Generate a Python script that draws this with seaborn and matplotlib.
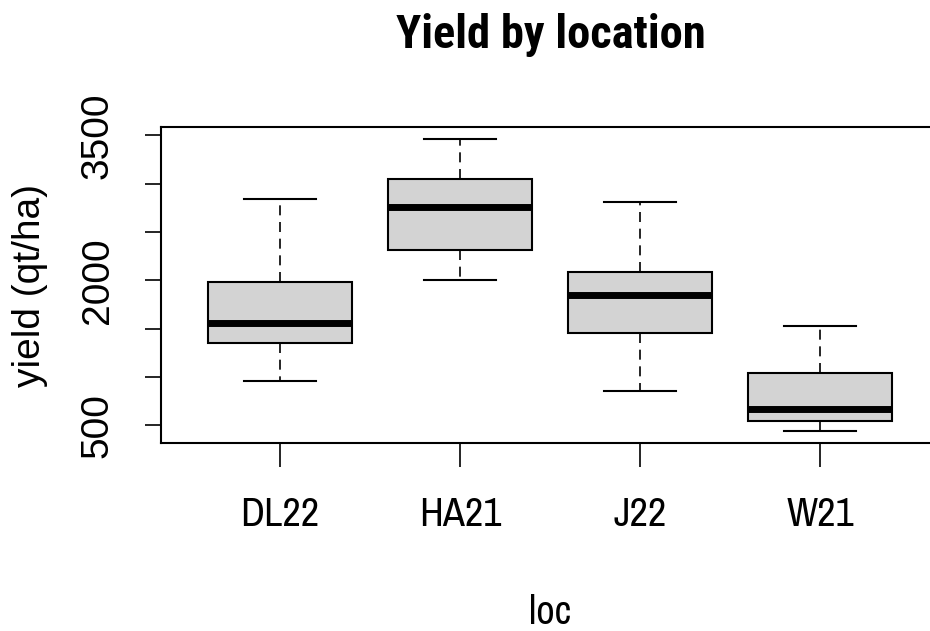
import matplotlib
matplotlib.use('Agg')
import matplotlib.pyplot as plt
from matplotlib import font_manager
import seaborn as sns
import pandas as pd

# five-number summaries (min, Q1, median, Q3, max)
locations = ['DL22', 'HA21', 'J22', 'W21']
dl22 = [960, 1351, 1562, 1981, 2839]
ha21 = [2002, 2317, 2759, 3050, 3465]
j22 = [856, 1455, 1846, 2085, 2815]
w21 = [438, 545, 673, 1040, 1531]

yticks = [500, 1000, 1500, 2000, 2500, 3000, 3500]
ytick_labels = ['500', '', '', '2000', '', '', '3500']

df = pd.DataFrame({
    'loc': [l for l, v in zip(locations, [dl22, ha21, j22, w21]) for _ in v],
    'yield': dl22 + ha21 + j22 + w21,
})

narrow = ['Archivo Narrow', 'Liberation Sans', 'DejaVu Sans']
normal = ['Liberation Sans', 'DejaVu Sans']

# the title needs a narrow face that has a real bold cut
bold_faces = {f.name for f in font_manager.fontManager.ttflist
              if f.weight in (700, 'bold') and f.stretch != 'normal'}
title_font = 'Liberation Sans'
for cand in ['Liberation Sans Narrow', 'Archivo Narrow', 'Roboto Condensed',
             'Arimo Narrow', 'PT Sans Narrow', 'Fira Sans Condensed',
             'IBM Plex Sans Condensed', 'Encode Sans Condensed',
             'Barlow Semi Condensed', 'Asap Condensed']:
    if cand in bold_faces:
        title_font = cand
        break
title_size = 33.5 if title_font != 'Liberation Sans' else 28

fig = plt.figure(figsize=(9.3, 6.31), dpi=100)
ax = fig.add_axes([0.1731, 0.2979, 0.8366, 0.5008])

sns.boxplot(
    data=df, x='loc', y='yield', ax=ax,
    color='#D3D3D3', saturation=1, linecolor='black', linewidth=1.5,
    width=0.8, whis=(0, 100),
    medianprops={'linewidth': 5, 'solid_capstyle': 'butt'},
    whiskerprops={'linestyle': (0, (6, 4)), 'linewidth': 1.2},
)

# R style padding of 4% on both axes
lo, hi = df['yield'].min(), df['yield'].max()
pad = (hi - lo) * 0.04
ax.set_ylim(lo - pad, hi + pad)
ax.set_xlim(-0.5 - 0.16, len(locations) - 0.5 + 0.16)

ax.set_yticks(yticks)
ax.set_yticklabels(ytick_labels, rotation=90, va='center',
                   fontsize=28, family=normal)
ax.set_xticks(range(len(locations)))
ax.set_xticklabels(locations, fontsize=29, family=narrow)

ax.tick_params(axis='x', length=17, width=1.2, pad=21, color='black')
ax.tick_params(axis='y', length=11.5, width=1.2, pad=21, color='black')

for s in ax.spines.values():
    s.set_visible(True)
    s.set_color('black')
    s.set_linewidth(1.5)

ax.set_xlabel('loc', fontsize=29, family=narrow, va='baseline')
ax.xaxis.set_label_coords(0.5, -0.572)
ax.set_ylabel('yield (qt/ha)', fontsize=28, family=normal, va='center')
ax.yaxis.set_label_coords(-0.168, 0.5)

fig.text(551 / 930, 1 - 48 / 631, 'Yield by location', ha='center',
         va='baseline', fontsize=title_size, fontweight='bold',
         family=[title_font, 'Liberation Sans', 'DejaVu Sans'])

fig.savefig('out.png', dpi=100)
